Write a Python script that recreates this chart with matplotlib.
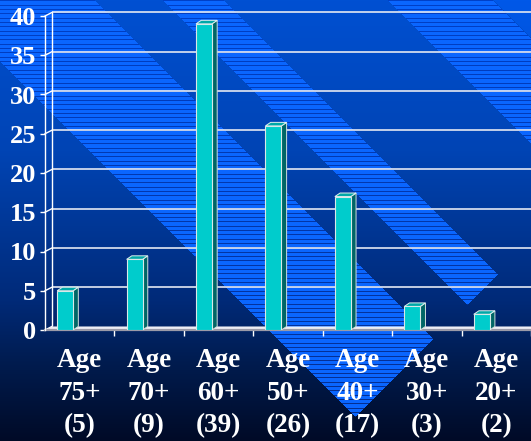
import numpy as np
import matplotlib
matplotlib.use("Agg")
import matplotlib.pyplot as plt
from matplotlib.patches import Polygon, Rectangle

ages = ["75+", "70+", "60+", "50+", "40+", "30+", "20+"]
counts = [5, 9, 39, 26, 17, 3, 2]
yticks = [0, 5, 10, 15, 20, 25, 30, 35, 40]
labels = [f"Age\n{a}\n({c})" for a, c in zip(ages, counts)]

W, H = 531, 441
FONT = "Liberation Serif"

# --- background: blue gradient with diagonal striped bands ---
yy, xx = np.mgrid[0:H, 0:W].astype(float)
stops_y = [0, 150, 300, 360, 441]
stops_c = np.array([[0, 80, 210], [0, 68, 180], [0, 42, 120], [0, 28, 80], [0, 10, 38]])
bg = np.stack([np.interp(yy, stops_y, stops_c[:, k]) for k in range(3)], axis=-1)

d = yy - xx
cut = (xx + yy) < 772
band = (((d > -95) & (d < 62)) | ((d > -224) & (d < -162))) & cut
band |= (d > -493) & (d < -387)
lighter = d < -493
bg[lighter] += np.array([0, 8, 22])

dark_line = np.stack([np.interp(yy, [0, 441], [0, 5]),
                      np.interp(yy, [0, 441], [64, 45]),
                      np.interp(yy, [0, 441], [200, 140])], axis=-1)
bright = np.array([10, 102, 255], dtype=float)
stripe_dark = ((yy * 3) % 13) < 3
img = bg.copy()
img[band & ~stripe_dark] = bright
img[band & stripe_dark] = dark_line[band & stripe_dark]
img = np.clip(img, 0, 255).astype(np.uint8)

fig = plt.figure(figsize=(W / 100, H / 100), dpi=100)
bg_ax = fig.add_axes([0, 0, 1, 1], zorder=0)
bg_ax.imshow(img, aspect="auto", interpolation="nearest", extent=(0, W, H, 0))
bg_ax.axis("off")

# --- chart axes (front plane) ---
ax = fig.add_axes([45 / W, (H - 330) / H, 486 / W, 314 / H], zorder=1)
ax.patch.set_visible(False)
ax.set_xlim(0, 7)
ax.set_ylim(0, 40)
for side in ["top", "right", "bottom"]:
    ax.spines[side].set_visible(False)
ax.spines["left"].set_color("white")
ax.spines["left"].set_linewidth(1.0)

# depth offsets in data units
DXW, DYW = 0.10, 0.45
DXB, DYB = 0.075, 0.45

# back wall gridlines, back edge and connectors
ax.hlines([v + DYW for v in yticks[1:]], DXW, 7.3, colors="#e4e8f2", lw=1.2, clip_on=False, zorder=1)
ax.vlines(DXW, DYW, 40 + DYW, colors="white", lw=1.0, clip_on=False, zorder=1)
for v in yticks:
    ax.plot([0, DXW], [v, v + DYW], color="white", lw=1.0, clip_on=False, zorder=1)

# floor
ax.add_patch(Polygon([(0, 0), (7.3, 0), (7.3 + DXW, DYW), (DXW, DYW)], closed=True,
                     fc="#eeeef4", ec="none", clip_on=False, zorder=2))
ax.plot([0, 7.3], [0, 0], color="#9a9aa8", lw=1.6, clip_on=False, zorder=2)

# 3D bars
BW = 0.23
for i, v in enumerate(counts):
    x0 = i + 0.175
    x1 = x0 + BW
    ax.add_patch(Polygon([(x1, 0), (x1 + DXB, DYB), (x1 + DXB, v + DYB), (x1, v)], closed=True,
                         fc="#006666", ec="#d0dede", lw=0.7, zorder=3))
    ax.add_patch(Polygon([(x0, v), (x1, v), (x1 + DXB, v + DYB), (x0 + DXB, v + DYB)], closed=True,
                         fc="#00a8a8", ec="#e0eeee", lw=0.7, zorder=3))
    ax.add_patch(Rectangle((x0, 0), BW, v, fc="#00cccc", ec="#d8e8e8", lw=0.8, zorder=4))

# ticks and labels
ax.set_yticks(yticks)
ax.set_yticklabels([str(v) for v in yticks], fontfamily=FONT, fontweight="bold",
                   fontsize=19, color="white")
ax.tick_params(axis="y", colors="white", length=3.6, width=1.0, pad=2.9)

ax.set_xticks(np.arange(1, 8))
ax.set_xticklabels([])
ax.tick_params(axis="x", which="major", colors="white", length=4.5, width=1.0, direction="out")
ax.set_xticks(np.arange(7) + 0.5, minor=True)
ax.set_xticklabels(labels, minor=True, fontfamily=FONT, fontweight="bold",
                   fontsize=19.5, color="white")
ax.tick_params(axis="x", which="minor", length=0, pad=13.2)
for t in ax.get_xticklabels(minor=True):
    t.set_linespacing(1.38)

fig.savefig("out.png", dpi=100)
